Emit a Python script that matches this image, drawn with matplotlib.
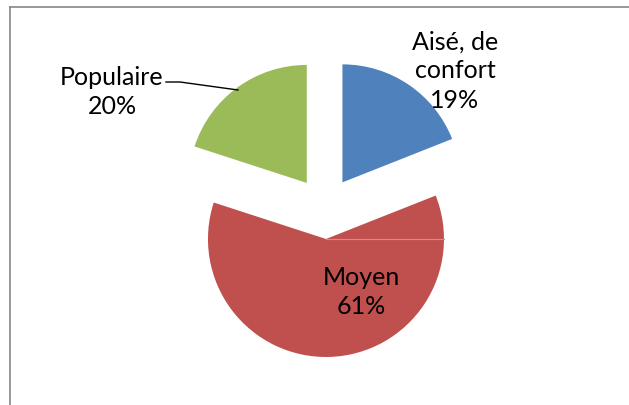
import matplotlib.pyplot as plt
from matplotlib.lines import Line2D

# data
categories = ['Aisé, de\nconfort', 'Moyen', 'Populaire']
shares = [19, 61, 20]
colors = ['#4F81BD', '#C0504D', '#9BBB59']

W, H = 629, 406
fig = plt.figure(figsize=(W / 100, H / 100), dpi=100)
ax = fig.add_axes([0, 0, 1, 1])

cx, cy, r = 325, H - 209, 118
# explode is in data units here, not a fraction of the radius
wedges, _ = ax.pie(shares, colors=colors, startangle=90, counterclock=False,
                   explode=[31] * len(shares), center=(cx, cy), radius=r,
                   wedgeprops=dict(linewidth=0))
ax.set_xlim(0, W)
ax.set_ylim(0, H)
ax.set_aspect('equal')
ax.axis('off')

# faint seam seen in the red slice
red = wedges[1]
ax.plot([red.center[0], red.center[0] + red.r], [red.center[1]] * 2,
        color='#D98A88', lw=0.8)

font = dict(family=['Lato', 'DejaVu Sans'], fontsize=18, color='black',
            ha='center', va='center', linespacing=1.32)
ax.text(455, H - 71, f"{categories[0]}\n{shares[0]}%", **font)
ax.text(361, H - 292, f"{categories[1]}\n{shares[1]}%", **font)
ax.text(112, H - 92, f"{categories[2]}\n{shares[2]}%", **font)

# leader line for Populaire
ax.plot([166, 180, 238], [H - 83, H - 83, H - 91], color='black', lw=1.0)

# chart area frame (cut at right and bottom)
fig.add_artist(Line2D([9.5 / W, 9.5 / W], [0, 1 - 7.5 / H], color='#868686',
                      lw=1.2, transform=fig.transFigure))
fig.add_artist(Line2D([9.5 / W, 1], [1 - 7.5 / H, 1 - 7.5 / H], color='#868686',
                      lw=1.2, transform=fig.transFigure))

fig.savefig('out.png', dpi=100, facecolor='white')
